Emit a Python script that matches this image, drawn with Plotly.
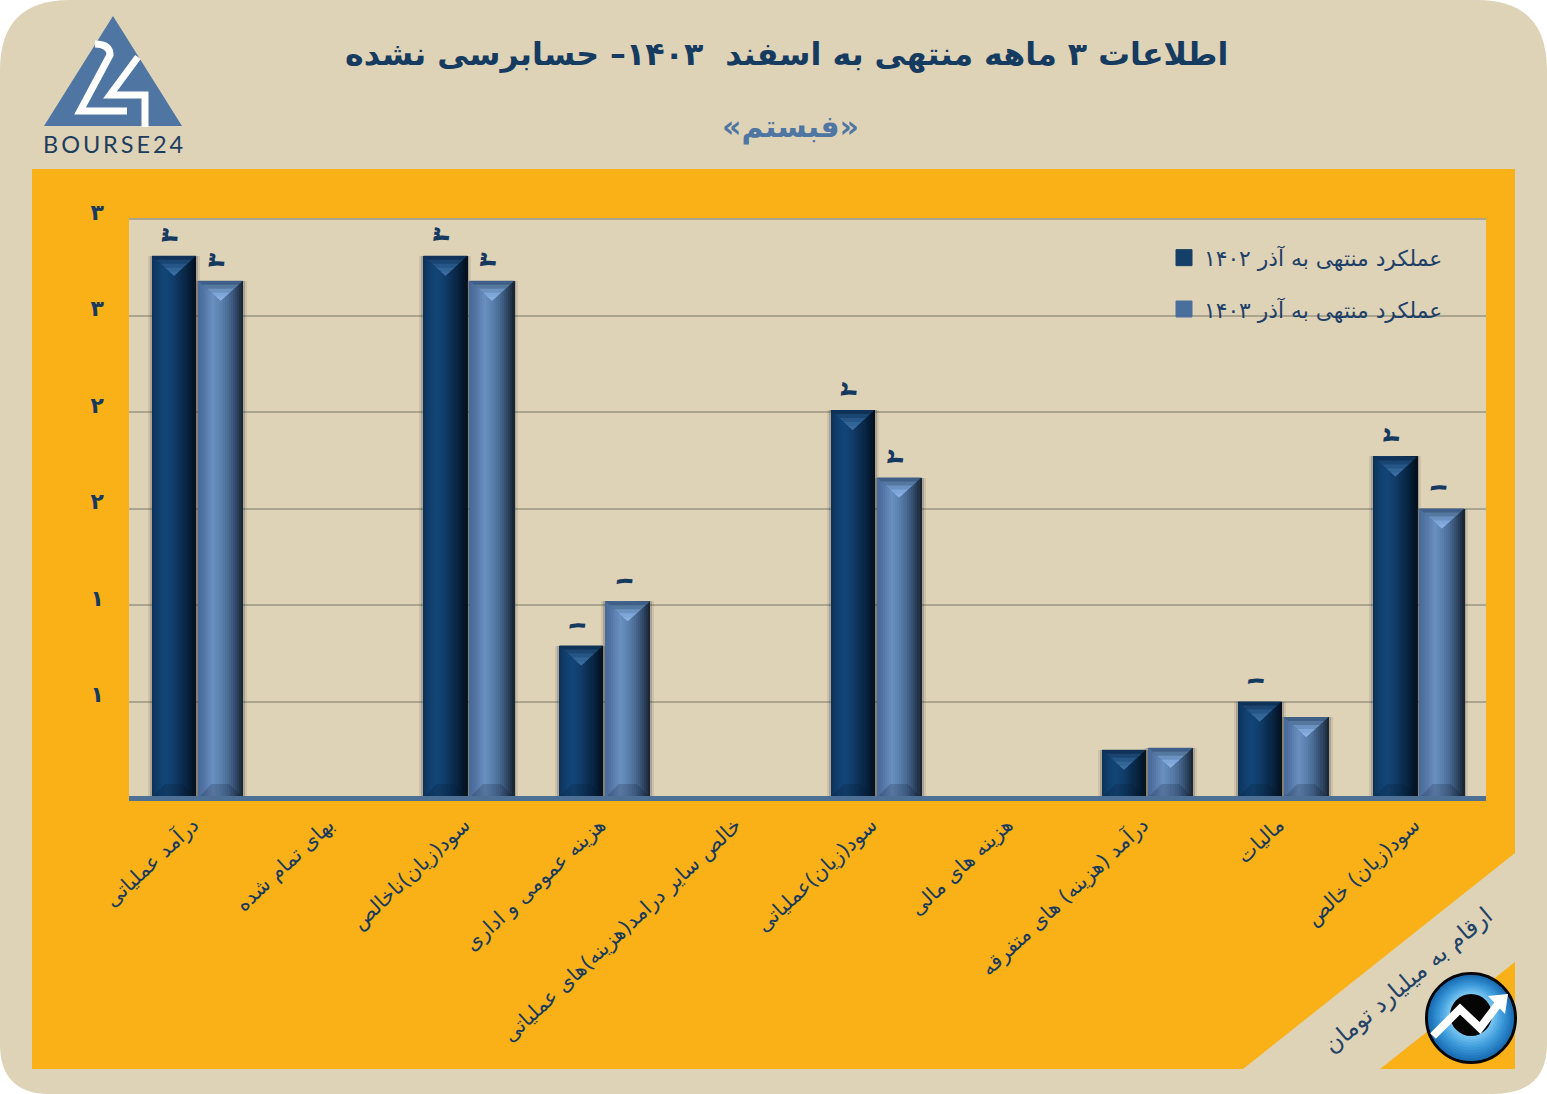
import plotly.graph_objects as go

categories = ["درآمد عملیاتی", "بهای تمام شده", "سود(زیان)ناخالص", "هزینه عمومی و اداری",
              "خالص سایر درامد(هزینه)های عملیاتی", "سود(زیان)عملیاتی", "هزینه های مالی",
              "درآمد (هزینه) های متفرقه", "مالیات", "سود(زیان) خالص"]
series_1402 = [2.81, None, 2.81, 0.79, None, 2.01, None, 0.25, 0.50, 1.77]
series_1403 = [2.68, None, 2.68, 1.02, None, 1.66, None, 0.26, 0.42, 1.50]
labels_1402 = ["۳", "", "۳", "۱", "", "۲", "", "", "۱", "۲"]
labels_1403 = ["۳", "", "۳", "۱", "", "۲", "", "", "", "۱"]
name_1402 = "عملکرد منتهی به آذر ۱۴۰۲"
name_1403 = "عملکرد منتهی به آذر ۱۴۰۳"
tick_values = [0.5, 1, 1.5, 2, 2.5, 3]
tick_labels = ["۱", "۱", "۲", "۲", "۳", "۳"]

W, H = 1547, 1094
L, R, T, B = 129, 1486, 219, 798
PW, PH = R - L, B - T
UNIT = PH / 3
CAT = PW / 10
BEIGE = "#DFD3B7"
ORANGE = "#F9B117"
NAVY = "#16395F"
STEEL = "#4F76A3"
FONT = "DejaVu Sans"


def px(x):
    return (x - L) / PW


def py(y):
    return (B - y) / PH


def mix(stops, t):
    n = len(stops) - 1
    i = min(int(t * n), n - 1)
    f = t * n - i
    a = stops[i]
    b = stops[i + 1]
    c = [int(a[k:k + 2], 16) * (1 - f) + int(b[k:k + 2], 16) * f for k in (1, 3, 5)]
    return "rgb(%d,%d,%d)" % tuple(c)


fig = go.Figure()
xs = list(range(len(categories)))
STRIPS = 22


def add_series(values, x0_px, x1_px, stops, top_bands, bottom, name):
    x0 = x0_px / CAT
    x1 = x1_px / CAT
    w = (x1 - x0) / STRIPS
    for grow, alpha in ((4, 0.10), (2, 0.22)):
        fig.add_bar(x=xs, y=values, offset=x0 - grow / CAT, width=(x1 - x0) + 2 * grow / CAT,
                    marker=dict(color=f"rgba(50,50,50,{alpha})", line_width=0), showlegend=False, hoverinfo="skip")
    for i in range(STRIPS):
        color = mix(stops, (i + 0.5) / STRIPS)
        fig.add_bar(x=xs, y=values, offset=x0 + i * w, width=w * 1.08,
                    marker=dict(color=color, line_width=0), showlegend=False,
                    name=name, hoverinfo="skip")
    d = 20 / UNIT
    half = (x1 - x0) / 2
    mid = (x0 + x1) / 2
    for frac, color in top_bands:
        xx, yy = [], []
        for x, v in zip(xs, values):
            if v is None:
                continue
            c = x + mid
            hw = half * frac
            ytop = v - d * (1 - frac)
            xx += [c - hw, c + hw, c, c - hw, None]
            yy += [ytop, ytop, v - d, ytop, None]
        fig.add_scatter(x=xx, y=yy, mode="lines", line=dict(width=0), fill="toself", fillcolor=color,
                        showlegend=False, hoverinfo="skip")
    xx, yy = [], []
    for x, v in zip(xs, values):
        if v is None:
            continue
        c = x + mid
        xx += [c - half, c + half, c + half * 0.4, c - half * 0.4, c - half, None]
        yy += [0, 0, 14 / UNIT, 14 / UNIT, 0, None]
    fig.add_scatter(x=xx, y=yy, mode="lines", line=dict(width=0), fill="toself", fillcolor=bottom,
                    showlegend=False, hoverinfo="skip")


add_series(series_1402, -44.8, -0.8,
           ["#0C3158", "#114070", "#134677", "#103C68", "#0C2E52", "#07203A", "#030E1C"],
           [(1.0, "#0F3358"), (0.8, "#1A4570"), (0.6, "#265688"), (0.4, "#336496"), (0.2, "#3A6C9F")],
           "rgba(5,20,40,0.2)", name_1402)
add_series(series_1403, 1.2, 46.2,
           ["#48699A", "#5679A9", "#6A90BF", "#5C82B0", "#4A6B94", "#324A6A", "#17222F"],
           [(1.0, "#3F5F88"), (0.8, "#55789F"), (0.6, "#6C92C2"), (0.4, "#7FA6D8"), (0.2, "#88AFE0")],
           "rgba(10,20,40,0.2)", name_1403)

for nm, col in ((name_1402, "#153F69"), (name_1403, "#4A6F9D")):
    fig.add_scatter(x=[None], y=[None], mode="markers", name=nm, legendgroup=nm,
                    marker=dict(symbol="square", size=16, color=col, line=dict(width=1, color=col)))

annotations = []
for values, labels, off in ((series_1402, labels_1402, -27 / CAT), (series_1403, labels_1403, 20 / CAT)):
    for x, v, t in zip(xs, values, labels):
        if t:
            annotations.append(dict(x=x + off, y=v, xref="x", yref="y", text=t, showarrow=False,
                                    textangle=-83, yshift=20.5, yanchor="middle", xanchor="center",
                                    font=dict(family=FONT, size=24, color=NAVY, weight="bold")))


def note(x, y, text, size, color, angle=0, weight="normal", family=FONT):
    annotations.append(dict(x=px(x), y=py(y), xref="paper", yref="paper", text=text, showarrow=False,
                            textangle=angle, xanchor="center", yanchor="middle",
                            font=dict(family=family, size=size, color=color, weight=weight)))


note(786, 55, "اطلاعات ۳ ماهه منتهی به اسفند  ۱۴۰۳– حسابرسی نشده", 31.7, "#153B60", weight="bold")
note(790, 127, "\u200f«فبستم»\u200f", 30, STEEL, weight="bold")
note(1408, 980, "ارقام به میلیارد تومان", 23.5, "#1F4468", angle=-40)
note(113, 144, "B\u2009O\u2009U\u2009R\u2009S\u2009E\u20092\u20094", 23.5, "#1D3D5E", family="Lato")


def poly(points, fill, layer="below"):
    d = "M " + " L ".join(f"{px(x):.5f},{py(y):.5f}" for x, y in points) + " Z"
    return dict(type="path", xref="paper", yref="paper", path=d, fillcolor=fill,
                line=dict(width=0), layer=layer)


def stroke(cmds, color, width, layer="above"):
    return dict(type="path", xref="paper", yref="paper", path=cmds, line=dict(color=color, width=width),
                layer=layer)


def circle(cx, cy, r, fill, line_color=None, line_width=0):
    return dict(type="circle", xref="paper", yref="paper", x0=px(cx - r), x1=px(cx + r),
                y0=py(cy + r), y1=py(cy - r), fillcolor=fill, layer="above",
                line=dict(width=line_width, color=line_color or fill))


def pt(x, y):
    return f"{px(x):.5f},{py(y):.5f}"


card = ("M " + pt(70, 0) + " L " + pt(W - 70, 0) + " Q " + pt(W, 0) + " " + pt(W, 70) +
        " L " + pt(W, H - 50) + " Q " + pt(W, H) + " " + pt(W - 55, H) +
        " L " + pt(50, H) + " Q " + pt(0, H) + " " + pt(0, H - 50) +
        " L " + pt(0, 70) + " Q " + pt(0, 0) + " " + pt(70, 0) + " Z")

shapes = [
    dict(type="path", xref="paper", yref="paper", path=card, fillcolor=BEIGE, line=dict(width=0), layer="below"),
    poly([(32, 169), (1515, 169), (1515, 853), (1243, 1069), (32, 1069)], ORANGE),
    poly([(1515, 962), (1515, 1069), (1380, 1069)], ORANGE),
    poly([(L, T), (R, T), (R, B), (L, B)], BEIGE),
    # top gridline sits on the plot edge
    dict(type="line", xref="paper", yref="paper", x0=0, x1=1, y0=1, y1=1,
         line=dict(color="#ABA58F", width=2), layer="below"),
    # logo triangle and "24"
    poly([(113, 16), (182, 126), (44, 126)], STEEL, "above"),
    stroke("M " + pt(95, 44) + " Q " + pt(110, 44) + " " + pt(110, 55) + " L " + pt(80, 111) + " L " + pt(127, 111),
           "white", 7),
    stroke("M " + pt(138, 57) + " L " + pt(110, 95) + " L " + pt(145, 95) + " L " + pt(145, 127), "white", 7),
    # axis baseline
    dict(type="line", xref="paper", yref="paper", x0=0, x1=1, y0=py(798.5), y1=py(798.5),
         line=dict(color="#4F7095", width=5), layer="above"),
    # round badge
    circle(1471, 1018, 44.5, "#1A6FB5", "#050505", 3),
]
RINGS = 10
for k in range(RINGS):
    t = k / (RINGS - 1)
    shapes.append(circle(1471, 1018 - 3 * t, 43 - 21 * t, mix(["#1A6FB5", "#3F9CDC", "#7CC8F2"], t)))
shapes += [
    circle(1471, 1015, 21, "#050505"),
    stroke("M " + pt(1433, 1036) + " L " + pt(1460, 1009) + " L " + pt(1480, 1028) + " L " + pt(1499, 1003),
           "white", 8),
    poly([(1508, 994), (1505, 1014), (1488, 996)], "white", "above"),
]

fig.update_layout(
    width=W, height=H, autosize=False,
    margin=dict(l=L, r=W - R, t=T, b=H - B, pad=0),
    paper_bgcolor="white", plot_bgcolor="rgba(0,0,0,0)",
    barmode="overlay", bargap=0,
    shapes=shapes, annotations=annotations,
    legend=dict(x=px(1164), y=py(237), xanchor="left", yanchor="top", bgcolor="rgba(0,0,0,0)",
                tracegroupgap=20, traceorder="grouped",
                font=dict(family=FONT, size=21.8, color="#1D4068")),
    xaxis=dict(range=[-0.5, 9.5], tickvals=xs, ticktext=categories, tickangle=-43, showgrid=False,
               zeroline=False, ticks="", ticklen=0, fixedrange=True, ticklabelstandoff=10, ticklabelshift=-4,
               tickfont=dict(family=FONT, size=20.5, color=NAVY)),
    yaxis=dict(range=[0, 3], tickvals=tick_values, ticktext=tick_labels, showgrid=True, gridcolor="#ABA58F",
               gridwidth=2, zeroline=False, ticks="", ticklabelstandoff=24, ticklabelshift=-7, fixedrange=True,
               tickfont=dict(family=FONT, size=22, color=NAVY, weight="bold")),
    hovermode=False,
)

fig.write_html("out.html", config=dict(displayModeBar=False),
               post_script="document.body.style.margin='0';document.body.style.overflow='hidden';")
